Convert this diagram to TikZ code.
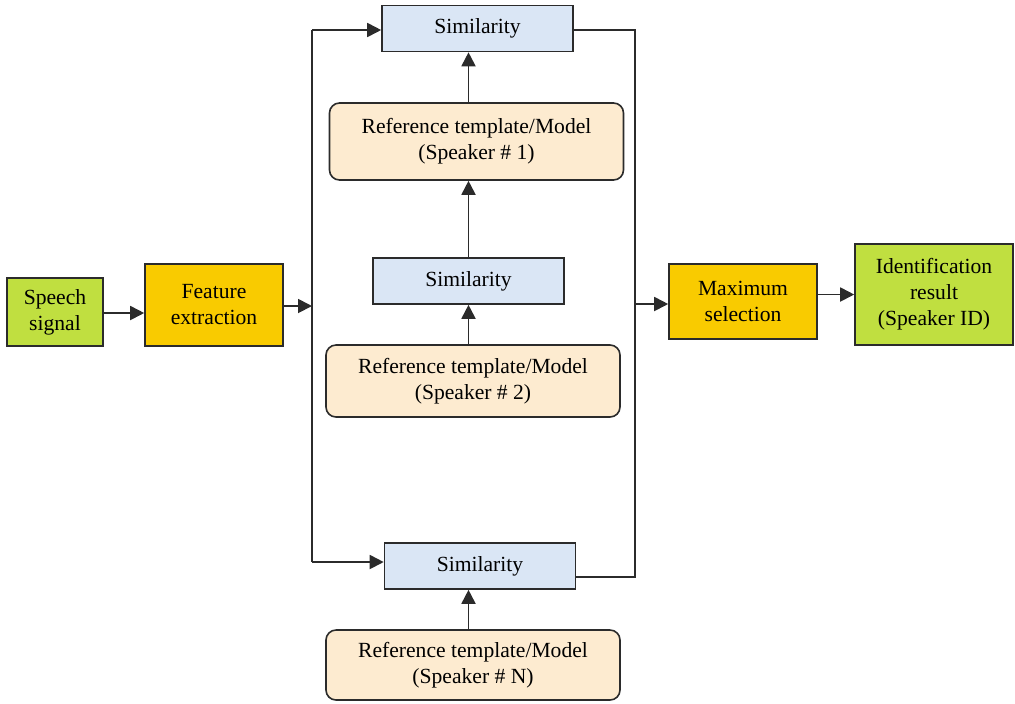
\documentclass[tikz,border=0pt]{standalone}
\usepackage{fontspec}
\setmainfont{Liberation Serif}
\usepackage{xcolor}
\usepackage{tikz}
\usetikzlibrary{arrows.meta}

\definecolor{boxgreen}{HTML}{C0DF40}
\definecolor{boxyellow}{HTML}{F9CB00}
\definecolor{boxblue}{HTML}{DAE6F5}
\definecolor{boxcream}{HTML}{FDEBD0}
\definecolor{edgegray}{HTML}{2B2B2B}

\tikzset{
    blk/.style={draw=edgegray,line width=0.8pt,align=center,inner sep=1pt},
    simbox/.style={blk,fill=boxblue,minimum width=95.5pt,minimum height=23pt},
    refbox/.style={blk,fill=boxcream,rounded corners=5pt,minimum width=147pt},
    arr/.style={-{Triangle[length=7pt,width=7pt]},line width=0.9pt,draw=edgegray},
    wire/.style={line width=0.9pt,draw=edgegray}
}

\begin{document}
\begin{tikzpicture}[x=0.5pt,y=-0.5pt,font=\fontsize{10.8}{13}\selectfont]
    \useasboundingbox (0,0) rectangle (1015,703);
    \node[blk,fill=boxgreen,minimum width=48pt,minimum height=34pt] (speech) at (55,312) {Speech\\signal};
    \node[blk,fill=boxyellow,minimum width=69pt,minimum height=41pt] (feat) at (214,305) {Feature\\extraction};
    \node[simbox] (sim1) at (477.5,28.5) {Similarity};
    \node[refbox,minimum height=38.5pt] (ref1) at (476.5,141.5) {Reference template/Model\\(Speaker \# 1)};
    \node[simbox] (sim2) at (468.5,281) {Similarity};
    \node[refbox,minimum height=36pt] (ref2) at (473,381) {Reference template/Model\\(Speaker \# 2)};
    \node[simbox] (sim3) at (480,566) {Similarity};
    \node[refbox,minimum height=35pt] (refN) at (473,665) {Reference template/Model\\(Speaker \# N)};
    \node[blk,fill=boxyellow,minimum width=74pt,minimum height=37.5pt] (maxsel) at (743,301.5) {Maximum\\selection};
    \node[blk,fill=boxgreen,minimum width=79pt,minimum height=50.5pt] (idres) at (934,294.5) {Identification\\result\\(Speaker ID)};
    \coordinate (lt) at (312,30);
    \coordinate (lb) at (312,562);
    \coordinate (rt) at (635,30);
    \coordinate (rb) at (635,577);
    % input side
    \draw[arr] (speech.east |- 0,313) -- (feat.west |- 0,313);
    \draw[arr] (feat.east |- 0,306) -- (lt |- 0,306);
    \draw[wire] (lt) -- (lb);
    \draw[arr] (lt) -- (lt -| sim1.west);
    \draw[arr] (lb) -- (lb -| sim3.west);
    % templates
    \draw[arr] (ref1.north -| sim2) -- (sim1.south -| sim2);
    \draw[arr] (sim2.north) -- (ref1.south -| sim2);
    \draw[arr] (ref2.north -| sim2) -- (sim2.south);
    \draw[arr] (refN.north -| sim2) -- (sim3.south -| sim2);
    % output side
    \draw[wire] (rt -| sim1.east) -- (rt) -- (rb) -- (rb -| sim3.east);
    \draw[arr] (rt |- 0,304) -- (maxsel.west |- 0,304);
    \draw[arr] (maxsel.east |- idres) -- (idres.west);
\end{tikzpicture}
\end{document}
